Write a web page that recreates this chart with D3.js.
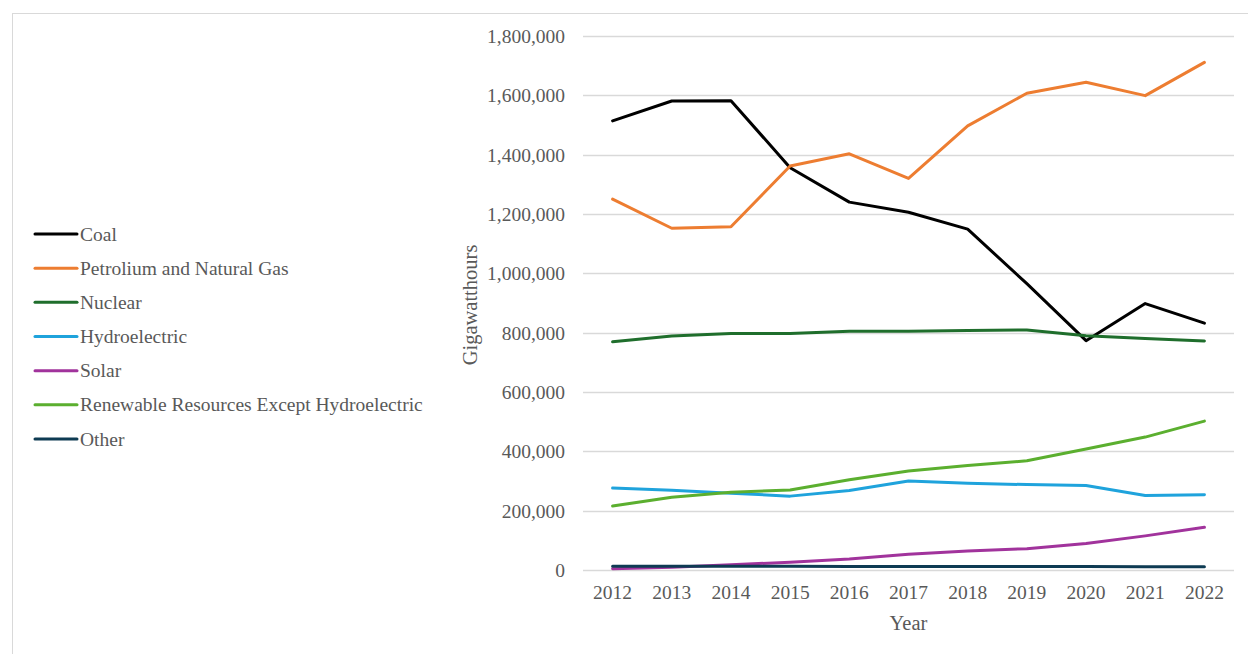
<!DOCTYPE html>
<html>
<head>
<meta charset="utf-8">
<script src="https://cdn.jsdelivr.net/npm/d3@7"></script>
<style>
  html, body { margin: 0; padding: 0; background: #fff; }
  svg { display: block; font-family: "Liberation Serif", "Times New Roman", serif; }
</style>
</head>
<body>
<svg id="chart" width="1248" height="654"></svg>
<script>
const years = [2012, 2013, 2014, 2015, 2016, 2017, 2018, 2019, 2020, 2021, 2022];
const seriesNames = ["Coal", "Petrolium and Natural Gas", "Nuclear", "Hydroelectric", "Solar", "Renewable Resources Except Hydroelectric", "Other"];
const coal = [1514000, 1581000, 1582000, 1356000, 1240000, 1206000, 1149000, 965000, 773000, 898000, 832000];
const petroliumGas = [1250000, 1152000, 1157000, 1362000, 1403000, 1320000, 1497000, 1607000, 1644000, 1599000, 1711000];
const nuclear = [769000, 789000, 797000, 797000, 805000, 805000, 807000, 809000, 790000, 780000, 772000];
const hydro = [276000, 269000, 259000, 249000, 268000, 300000, 292000, 288000, 285000, 251000, 254000];
const solar = [4000, 9000, 18000, 26000, 37000, 53000, 64000, 72000, 89000, 115000, 144000];
const renewable = [216000, 245000, 262000, 270000, 304000, 334000, 352000, 368000, 408000, 448000, 502000];
const other = [13000, 13000, 13000, 13000, 12000, 12000, 12000, 12000, 12000, 11000, 11000];
const yTicks = [0, 200000, 400000, 600000, 800000, 1000000, 1200000, 1400000, 1600000, 1800000];
const colors = ["#000000", "#ED7D31", "#1F6E2C", "#1FA3DC", "#A1339C", "#5BAF2F", "#0E3B53"];
const seriesValues = [coal, petroliumGas, nuclear, hydro, solar, renewable, other];

const svg = d3.select("#chart");
const textColor = "#595959";

// outer border
svg.append("rect").attr("x", 12.5).attr("y", 13.5).attr("width", 1260).attr("height", 680)
  .attr("fill", "#fff").attr("stroke", "#d9d9d9").attr("stroke-width", 1);

const x = d3.scaleBand().domain(years).range([583, 1234]).padding(0);
const y = d3.scaleLinear().domain([0, 1800000]).range([570, 36]);

// gridlines
svg.append("g").selectAll("line").data(yTicks).join("line")
  .attr("x1", 583).attr("x2", 1234)
  .attr("y1", d => Math.round(y(d)) + 0.5).attr("y2", d => Math.round(y(d)) + 0.5)
  .attr("stroke", "#d9d9d9").attr("stroke-width", 1.3);

// y axis labels
const yAxis = d3.axisLeft(y).tickValues(yTicks).tickSize(0).tickPadding(0).tickFormat(d3.format(","));
const gy = svg.append("g").attr("transform", "translate(565,0)").call(yAxis);
gy.select(".domain").remove();
gy.selectAll("text").attr("fill", textColor).attr("font-size", "19.5px")
  .attr("font-family", "Liberation Serif, serif").attr("dy", "0.34em");

// x axis labels
const xAxis = d3.axisBottom(x).tickSize(0).tickPadding(0);
const gx = svg.append("g").attr("transform", "translate(0,585)").call(xAxis);
gx.select(".domain").remove();
gx.selectAll("text").attr("fill", textColor).attr("font-size", "19.5px")
  .attr("font-family", "Liberation Serif, serif").attr("dy", "0.71em");

// axis titles
svg.append("text").attr("x", (583 + 1234) / 2).attr("y", 630).attr("text-anchor", "middle")
  .attr("fill", textColor).attr("font-size", "20.5px").text("Year");
svg.append("text").attr("transform", `translate(477,${(36 + 570) / 2 + 2}) rotate(-90)`)
  .attr("text-anchor", "middle").attr("fill", textColor).attr("font-size", "20.5px").text("Gigawatthours");

// lines
const line = d3.line().x((d, i) => x(years[i]) + x.bandwidth() / 2).y(d => y(d));
svg.append("g").selectAll("path").data(seriesValues).join("path")
  .attr("d", d => line(d))
  .attr("fill", "none")
  .attr("stroke", (d, i) => colors[i])
  .attr("stroke-width", 3)
  .attr("stroke-linejoin", "round")
  .attr("stroke-linecap", "round");

// legend
const lg = svg.append("g").selectAll("g").data(seriesNames).join("g")
  .attr("transform", (d, i) => `translate(0,${234 + i * 34.17})`);
lg.append("line").attr("x1", 35).attr("x2", 77).attr("y1", 0).attr("y2", 0)
  .attr("stroke", (d, i) => colors[i]).attr("stroke-width", 3).attr("stroke-linecap", "round");
lg.append("text").attr("x", 80).attr("y", 0).attr("dy", "0.34em")
  .attr("fill", textColor).attr("font-size", "19.5px").text(d => d);
</script>
</body>
</html>
